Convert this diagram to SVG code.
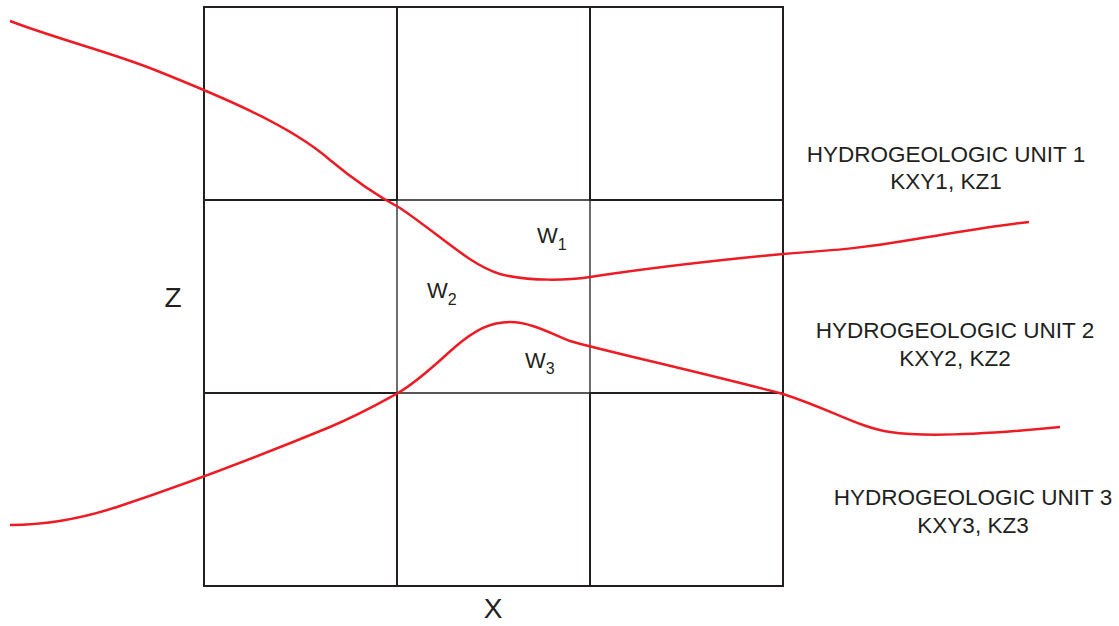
<svg xmlns="http://www.w3.org/2000/svg" width="1119" height="626" viewBox="0 0 1119 626">
<style>
.g{stroke:#231f20;stroke-width:2;fill:none}
.gt{stroke:#231f20;stroke-width:1.3;fill:none}
.c{stroke:#ed1c24;stroke-width:2.5;fill:none;stroke-linecap:butt}
text{font-family:"Liberation Sans",Arial,sans-serif;fill:#231f20}
.u{font-size:22.5px;text-anchor:middle}
.w{font-size:22px}
.s{font-size:16px}
.ax{font-size:28px;text-anchor:middle}
</style>
<rect width="1119" height="626" fill="#fff"/>
<g id="grid">
<rect class="g" x="204" y="7" width="579" height="579"/>
<path class="g" d="M397 7V200M590 7V200M397 393V586M590 393V586M204 200H397M590 200H783M204 393H397M590 393H783"/>
<path class="gt" d="M397 200H590M397 393H590M397 200V393M590 200V393"/>
</g>
<g id="connectors">
<path class="c" d="M10 21C60 40 110 52 155 70C220 96 290 125 330 160C360 185 385 200 400 208C440 235 470 265 500 274C530 282 570 280 590 277C650 268 720 260 783 254C840 250 870 247 910 240C960 232 990 226 1029 222"/>
<path class="c" d="M10 525C50 525 90 516 120 506C180 486 240 464 330 427C365 412 385 400 398 393C420 380 440 360 455 347C475 330 490 322 510 322C530 322 550 333 570 341C600 350 700 372 783 394C830 409 860 428 890 432C930 438 1000 433 1060 427"/>
</g>
<g id="unit1"><text class="u" x="946" y="162">HYDROGEOLOGIC UNIT 1</text><text class="u" x="946" y="189">KXY1, KZ1</text></g>
<g id="unit2"><text class="u" x="955" y="338">HYDROGEOLOGIC UNIT 2</text><text class="u" x="955" y="366">KXY2, KZ2</text></g>
<g id="unit3"><text class="u" x="973" y="505">HYDROGEOLOGIC UNIT 3</text><text class="u" x="973" y="533">KXY3, KZ3</text></g>
<g id="w1"><text class="w" x="537" y="243">W<tspan class="s" dy="7">1</tspan></text></g>
<g id="w2"><text class="w" x="427" y="298">W<tspan class="s" dy="7">2</tspan></text></g>
<g id="w3"><text class="w" x="525" y="368">W<tspan class="s" dy="6">3</tspan></text></g>
<g id="zlabel"><text class="ax" x="173" y="307">Z</text></g>
<g id="xlabel"><text class="ax" x="493" y="618">X</text></g>
</svg>
